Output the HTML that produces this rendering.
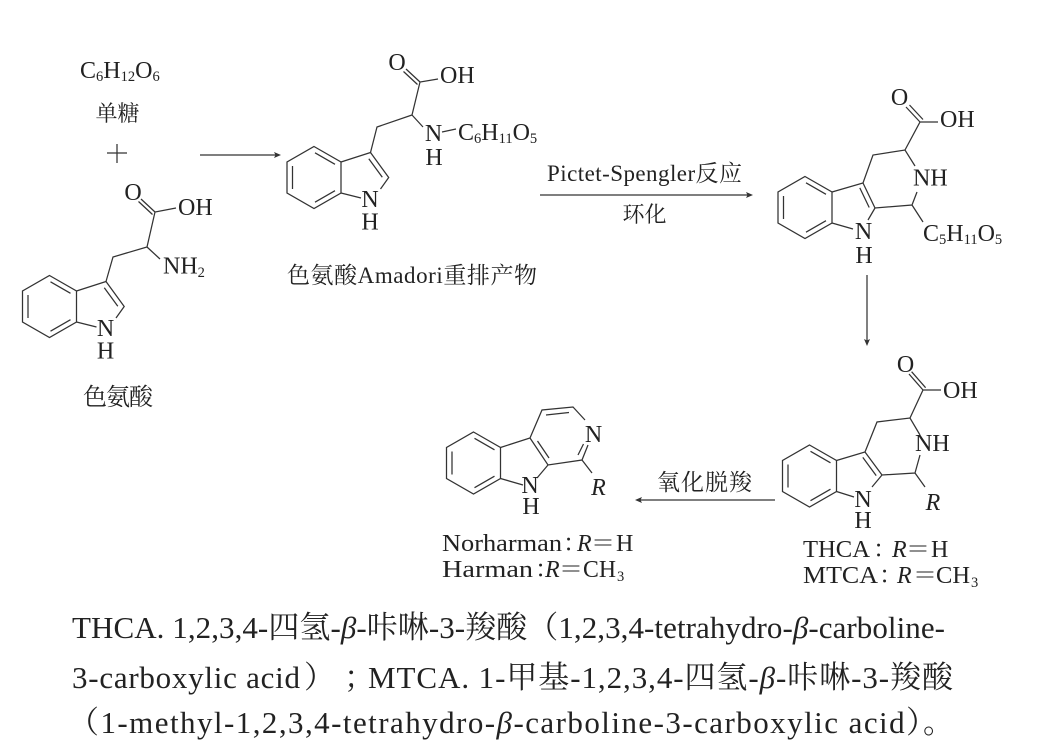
<!DOCTYPE html>
<html>
<head>
<meta charset="utf-8">
<style>
html,body{margin:0;padding:0;background:#fff;}
svg{display:block;}
text{font-family:"Liberation Serif","Noto Serif CJK SC",serif;fill:#222;}
.a{font-size:24px;}
.s{font-size:14.5px;}
.i{font-style:italic;}
.b{fill:none;stroke:#333;stroke-width:1.25;}
.m{text-anchor:middle;}
</style>
</head>
<body>
<svg width="1052" height="753" viewBox="0 0 1052 753" xmlns="http://www.w3.org/2000/svg">
<defs>
<g id="indole">
<path class="b" d="M0,-31 L27,-15.5 L27,15.5 L0,31 L-27,15.5 L-27,-15.5 Z"/>
<path class="b" d="M-21.5,-11.5 L-21.5,11.5 M1,-24.7 L21,-13.2 M1,24.7 L21,13.2"/>
<path class="b" d="M27,-15.5 L56.5,-25 L74.7,0 L66.5,11.5 M27,15.5 L47,20.5 M54.8,-18.8 L68.3,-0.3"/>
<text class="a m" x="56" y="29.5">N</text>
<text class="a m" x="56" y="52">H</text>
</g>
<g id="benz">
<path class="b" d="M0,-31 L27,-15.5 L27,15.5 L0,31 L-27,15.5 L-27,-15.5 Z"/>
<path class="b" d="M-21.5,-11.5 L-21.5,11.5 M1,-24.7 L21,-13.2 M1,24.7 L21,13.2"/>
</g>
</defs>

<!-- Top-left: sugar + tryptophan -->
<text class="a" x="80" y="78">C<tspan class="s" dy="3">6</tspan><tspan dy="-3">H</tspan><tspan class="s" dy="3">12</tspan><tspan dy="-3">O</tspan><tspan class="s" dy="3">6</tspan></text>
<text class="a m" x="117.5" y="121" style="font-size:22px">单糖</text>
<path class="b" d="M107,153 L127,153 M117,144 L117,163"/>

<use href="#indole" x="49.5" y="306.5"/>
<path class="b" d="M106,281.5 L113,257 L147,247 L155,212 L176,208 M155,212 L141,199 M152.5,214.5 L138.5,201.5 M147,247 L160,259"/>
<text class="a m" x="133" y="200">O</text>
<text class="a" x="178" y="215">OH</text>
<text class="a" x="163" y="273.5">NH<tspan class="s" dy="3.5">2</tspan></text>
<text class="a m" x="118" y="405" textLength="70" lengthAdjust="spacing">色氨酸</text>

<!-- Arrow 1 -->
<path class="b" d="M200,155 L276,155"/>
<path d="M281,155 L274,152 L275.5,155 L274,158 Z" fill="#333"/>

<!-- Amadori product -->
<use href="#indole" x="314" y="177.5"/>
<path class="b" d="M370.5,152.5 L377,127 L412,115 L420,82 L438,79 M420,82 L406,69 M417.5,84.5 L403.5,71.5 M412,115 L423,127 M442,132 L456,129"/>
<text class="a m" x="397" y="70">O</text>
<text class="a" x="440" y="83">OH</text>
<text class="a m" x="433.5" y="141">N</text>
<text class="a m" x="434" y="165">H</text>
<text class="a" x="458" y="140">C<tspan class="s" dy="3">6</tspan><tspan dy="-3">H</tspan><tspan class="s" dy="3">11</tspan><tspan dy="-3">O</tspan><tspan class="s" dy="3">5</tspan></text>
<text class="a" x="287" y="283" textLength="250" lengthAdjust="spacing" style="font-size:23px">色氨酸Amadori重排产物</text>

<!-- Arrow 2 Pictet-Spengler -->
<text class="a" x="547" y="181" textLength="195" lengthAdjust="spacing" style="font-size:23px">Pictet-Spengler反应</text>
<path class="b" d="M540,195 L748,195"/>
<path d="M753,195 L746,192 L747.5,195 L746,198 Z" fill="#333"/>
<text class="a m" x="644.5" y="222" style="font-size:22px">环化</text>

<!-- Top-right structure -->
<use href="#benz" x="805" y="207.5"/>
<path class="b" d="M832,192 L863,183 L873,155 L905,150 L915,166 M917,192 L912,205 L875,208 L863,183 M869.2,207.5 L859.8,187.9 M875,208 L868,220 M853,229 L832,223 M905,150 L920,122 L938,122 M920,122 L906,107 M923,119.5 L909.5,105 M912,205 L923,222"/>
<text class="a m" x="899.5" y="105">O</text>
<text class="a" x="940" y="127">OH</text>
<text class="a" x="913" y="185.5">NH</text>
<text class="a m" x="863.5" y="239">N</text>
<text class="a m" x="864" y="263">H</text>
<text class="a" x="923" y="241">C<tspan class="s" dy="3">5</tspan><tspan dy="-3">H</tspan><tspan class="s" dy="3">11</tspan><tspan dy="-3">O</tspan><tspan class="s" dy="3">5</tspan></text>

<!-- Arrow 3 vertical -->
<path class="b" d="M867,275 L867,341"/>
<path d="M867,346 L864,339 L867,340.5 L870,339 Z" fill="#333"/>

<!-- Bottom-right structure -->
<use href="#benz" x="809.5" y="476"/>
<path class="b" d="M836.5,460.5 L865,452 L877,422 L910,418 L920,435 M920,455 L915,473 L882,475 L865,452 M876.2,475.6 L862.8,457.4 M882,475 L872,487 M854,497 L836.5,491.5 M910,418 L923,390 L941,390 M923,390 L909,374 M925.6,387.7 L911.6,371.7 M915,473 L925,487"/>
<text class="a m" x="905.5" y="372">O</text>
<text class="a" x="943" y="398">OH</text>
<text class="a" x="915" y="451">NH</text>
<text class="a m" x="863" y="507">N</text>
<text class="a m" x="863" y="528">H</text>
<text class="a i m" x="933" y="510">R</text>

<text class="a" x="803" y="557" textLength="67" lengthAdjust="spacingAndGlyphs">THCA</text>
<text class="a" x="873" y="557">：</text>
<text class="a i" x="892" y="557">R</text>
<text class="a" x="906" y="557">＝</text>
<text class="a" x="931" y="557">H</text>

<text class="a" x="803" y="583" textLength="75" lengthAdjust="spacingAndGlyphs">MTCA</text>
<text class="a" x="879" y="583">：</text>
<text class="a i" x="897" y="583">R</text>
<text class="a" x="913" y="583">＝</text>
<text class="a" x="936" y="583" textLength="34" lengthAdjust="spacingAndGlyphs">CH</text>
<text class="s" x="971" y="587">3</text>

<!-- Arrow 4 -->
<path class="b" d="M775,500 L640,500"/>
<path d="M635,500 L642,497 L640.5,500 L642,503 Z" fill="#333"/>
<text class="a" x="657" y="490" textLength="95" lengthAdjust="spacing" style="font-size:23px">氧化脱羧</text>

<!-- Bottom-middle structure (beta-carboline) -->
<use href="#benz" x="473.5" y="463"/>
<path class="b" d="M500.5,447.5 L530,438 L542,410 L573,407 L585,420 M588,445 L582,460 L548,465 L530,438 M582,460 L592,473 M548,465 L537,478 M523,485 L500.5,478.5 M546,415 L569,412.5 M578,455 L583.5,444 M537.5,441 L549,458"/>
<text class="a m" x="593.5" y="442">N</text>
<text class="a m" x="530" y="493">N</text>
<text class="a m" x="531" y="514">H</text>
<text class="a i m" x="598.5" y="495">R</text>

<text class="a" x="442" y="551" textLength="120" lengthAdjust="spacingAndGlyphs">Norharman</text>
<text class="a" x="563" y="551">：</text>
<text class="a i" x="577" y="551">R</text>
<text class="a" x="591" y="551">＝</text>
<text class="a" x="616" y="551">H</text>

<text class="a" x="442" y="577" textLength="91" lengthAdjust="spacingAndGlyphs">Harman</text>
<text class="a" x="535" y="577">：</text>
<text class="a i" x="545" y="577">R</text>
<text class="a" x="559" y="577">＝</text>
<text class="a" x="583" y="577" textLength="33" lengthAdjust="spacingAndGlyphs">CH</text>
<text class="s" x="617" y="581">3</text>

<!-- Caption -->
<text x="72" y="638" style="font-size:31px" textLength="873" lengthAdjust="spacing">THCA. 1,2,3,4-四氢-<tspan class="i">β</tspan>-咔啉-3-羧酸（1,2,3,4-tetrahydro-<tspan class="i">β</tspan>-carboline-</text>
<text x="72" y="688" style="font-size:31px" textLength="228" lengthAdjust="spacing">3-carboxylic acid</text>
<text x="304" y="688" style="font-size:31px">）</text>
<text x="344" y="688" style="font-size:31px">；</text>
<text x="368" y="688" style="font-size:31px" textLength="585" lengthAdjust="spacing">MTCA. 1-甲基-1,2,3,4-四氢-<tspan class="i">β</tspan>-咔啉-3-羧酸</text>
<text x="68" y="733" style="font-size:31px" textLength="886" lengthAdjust="spacing">（1-methyl-1,2,3,4-tetrahydro-<tspan class="i">β</tspan>-carboline-3-carboxylic acid）。</text>
</svg>
</body>
</html>
